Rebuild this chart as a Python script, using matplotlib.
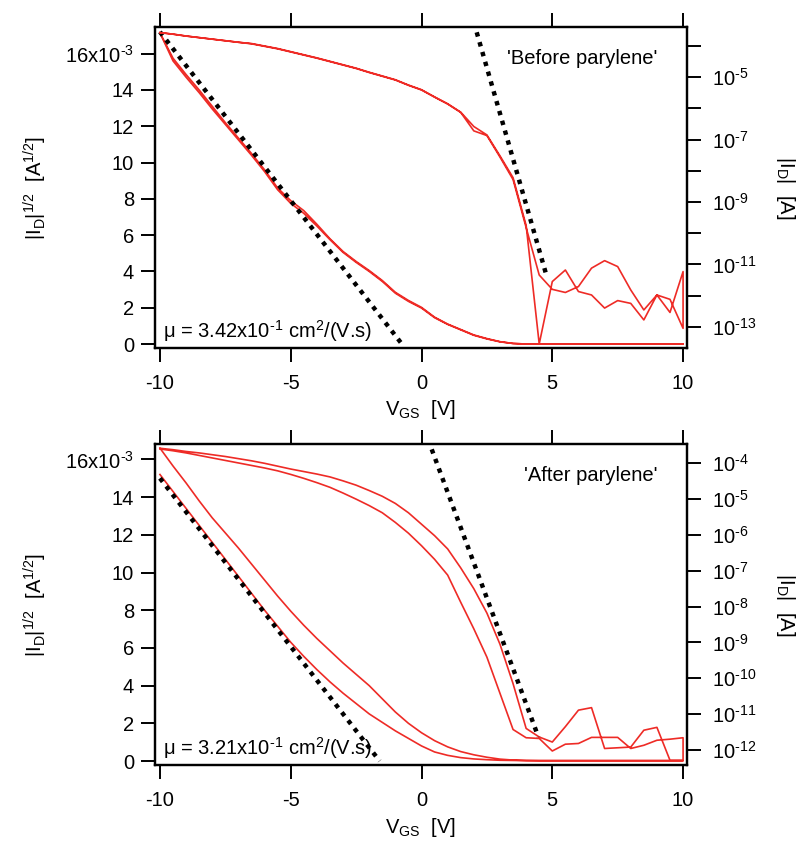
import numpy as np
import matplotlib
matplotlib.use("Agg")
import matplotlib.pyplot as plt
from matplotlib.ticker import FixedLocator, FixedFormatter, NullLocator

plt.rcParams['font.family'] = ['Liberation Sans', 'DejaVu Sans']
plt.rcParams['mathtext.fontset'] = 'custom'
plt.rcParams['mathtext.rm'] = 'Liberation Sans'
plt.rcParams['mathtext.it'] = 'Liberation Sans:italic'
plt.rcParams['mathtext.bf'] = 'Liberation Sans:bold'
plt.rcParams['axes.unicode_minus'] = False

# ---------------- data ----------------
vgs = [-10, -9.5, -9, -8.5, -8, -7.5, -7, -6.5, -6, -5.5, -5, -4.5, -4, -3.5, -3, -2.5,
       -2, -1.5, -1, -0.5, 0, 0.5, 1, 1.5, 2, 2.5, 3, 3.5, 4, 4.5, 5, 5.5, 6, 6.5,
       7, 7.5, 8, 8.5, 9, 9.5, 10]

# Before parylene: log10(|ID|) forward / reverse
before_log_fwd = [-3.57, -3.62, -3.68, -3.73, -3.78, -3.83, -3.88, -3.92, -4.00, -4.08, -4.18,
                  -4.28, -4.38, -4.49, -4.60, -4.71, -4.84, -4.96, -5.08, -5.25, -5.40, -5.63,
                  -5.85, -6.12, -6.58, -6.85, -7.52, -8.22, -9.75, -13.55, -11.55, -11.18,
                  -11.87, -11.98, -12.40, -12.16, -12.25, -12.78, -11.98, -12.54, -11.23]
before_log_rev = [-3.57, -3.62, -3.68, -3.73, -3.78, -3.83, -3.88, -3.93, -4.01, -4.09, -4.19,
                  -4.29, -4.39, -4.50, -4.61, -4.72, -4.85, -4.97, -5.09, -5.26, -5.41, -5.64,
                  -5.86, -6.13, -6.72, -6.87, -7.56, -8.28, -9.82, -11.34, -11.80, -11.90,
                  -11.71, -11.12, -10.88, -11.07, -11.82, -12.46, -11.98, -12.12, -13.05]
# Before parylene: sqrt(|ID|) in 1e-3 A^1/2
before_sqrt_fwd = [17.15, 15.75, 14.85, 14.0, 13.1, 12.2, 11.35, 10.5, 9.6, 8.6, 7.9, 7.35,
                   6.6, 5.8, 5.1, 4.55, 4.05, 3.5, 2.85, 2.4, 2.02, 1.48, 1.1, 0.8, 0.5, 0.3,
                   0.13, 0.03, 0.0, 0.0, 0.0, 0.0, 0.0, 0.0, 0.0, 0.0, 0.0, 0.0, 0.0, 0.0, 0.0]
before_sqrt_rev = [17.15, 15.6, 14.7, 13.85, 12.95, 12.1, 11.25, 10.4, 9.5, 8.5, 7.75, 7.2,
                   6.5, 5.75, 5.05, 4.5, 4.0, 3.45, 2.8, 2.35, 1.98, 1.45, 1.08, 0.78, 0.48, 0.28,
                   0.12, 0.03, 0.0, 0.0, 0.0, 0.0, 0.0, 0.0, 0.0, 0.0, 0.0, 0.0, 0.0, 0.0, 0.0]
before_fit_sqrt_x = [-10, -0.75]
before_fit_sqrt_y = [17.2, 0.0]
before_fit_log_x = [2.11, 4.79]
before_fit_log_y = [-3.56, -11.39]

# After parylene: log10(|ID|) forward / reverse
after_log_fwd = [-3.60, -3.65, -3.71, -3.78, -3.85, -3.92, -3.99, -4.06, -4.13, -4.21, -4.31,
                 -4.42, -4.54, -4.67, -4.83, -5.00, -5.18, -5.38, -5.65, -5.95, -6.30, -6.68,
                 -7.12, -7.88, -8.62, -9.41, -10.42, -11.43, -11.66, -11.68, -12.03, -11.84,
                 -11.82, -11.65, -11.65, -11.65, -11.96, -11.87, -11.73, -11.70, -11.66]
after_log_rev = [-3.58, -3.62, -3.67, -3.71, -3.76, -3.81, -3.87, -3.93, -4.00, -4.08, -4.16,
                 -4.23, -4.30, -4.38, -4.49, -4.61, -4.76, -4.92, -5.12, -5.38, -5.70, -6.02,
                 -6.39, -6.92, -7.50, -8.18, -9.05, -10.15, -11.40, -11.64, -11.78, -11.35,
                 -10.89, -10.82, -11.96, -11.94, -11.92, -11.45, -11.37, -12.29, -12.29]
after_sqrt_fwd = [16.6, 15.65, 14.75, 13.8, 12.9, 12.1, 11.3, 10.45, 9.6, 8.75, 7.95, 7.2, 6.5,
                  5.85, 5.2, 4.6, 4.0, 3.3, 2.6, 2.0, 1.5, 1.08, 0.75, 0.5, 0.33, 0.2, 0.1,
                  0.05, 0.03, 0.02, 0.02, 0.02, 0.02, 0.02, 0.02, 0.02, 0.02, 0.02, 0.02, 0.02, 0.02]
after_sqrt_rev = [15.2, 14.3, 13.4, 12.5, 11.6, 10.7, 9.8, 8.9, 8.0, 7.15, 6.3, 5.55, 4.85,
                  4.2, 3.6, 3.05, 2.5, 2.05, 1.6, 1.2, 0.8, 0.48, 0.3, 0.18, 0.11, 0.07, 0.04,
                  0.03, 0.02, 0.02, 0.02, 0.02, 0.02, 0.02, 0.02, 0.02, 0.02, 0.02, 0.02, 0.02, 0.02]
after_fit_sqrt_x = [-10, -1.6]
after_fit_sqrt_y = [15.0, 0.0]
after_fit_log_x = [0.39, 4.47]
after_fit_log_y = [-3.61, -11.64]

sqrt_ticks = [0, 2, 4, 6, 8, 10, 12, 14, 16]
sqrt_ticklabels = ['0', '2', '4', '6', '8', '10', '12', '14', '16x10$^{\\text{-3}}$']
x_ticks = [-10, -5, 0, 5, 10]

RED = '#ee2b26'
FS = 14.5

fig = plt.figure(figsize=(7.98, 8.41), dpi=100)


def make_panel(rect, sqrt_f, sqrt_r, log_f, log_r, fitsx, fitsy, fitlx, fitly,
               ylim_l, ylim_r_exp, decades, labeled, title, mu_text):
    ax = fig.add_axes(rect)
    v = np.array(vgs)
    xs = np.concatenate([v, v[::-1]])
    ys = np.concatenate([np.array(sqrt_f), np.array(sqrt_r)[::-1]])
    ax.plot(xs, ys, color=RED, lw=1.2, zorder=3)
    ax.plot(fitsx, fitsy, color='black', lw=3.2, linestyle=(0, (1, 1.3)),
            dash_capstyle='butt', zorder=4)
    ax.set_xlim(-10.19, 10.15)
    ax.set_ylim(*ylim_l)
    ax.yaxis.set_major_locator(FixedLocator(sqrt_ticks))
    ax.yaxis.set_major_formatter(FixedFormatter(sqrt_ticklabels))
    ax.xaxis.set_major_locator(FixedLocator(x_ticks))
    ax.tick_params(axis='both', direction='out', length=10, width=1.4, labelsize=FS,
                   top=True, labeltop=False)
    ax.tick_params(axis='x', pad=9)
    ax.tick_params(axis='y', pad=5)
    for s in ax.spines.values():
        s.set_linewidth(1.6)

    ax2 = ax.twinx()
    ax2.set_yscale('log')
    ls = np.concatenate([np.array(log_f), np.array(log_r)[::-1]])
    ax2.plot(xs, 10.0 ** ls, color=RED, lw=1.2, zorder=3)
    ax2.plot(fitlx, 10.0 ** np.array(fitly), color='black', lw=3.2,
             linestyle=(0, (1, 1.3)), dash_capstyle='butt', zorder=4)
    ax2.set_ylim(10.0 ** ylim_r_exp[0], 10.0 ** ylim_r_exp[1])
    ax2.yaxis.set_major_locator(FixedLocator([10.0 ** d for d in decades]))
    ax2.yaxis.set_major_formatter(FixedFormatter(
        ['10$^{\\text{%d}}$' % d if d in labeled else '' for d in decades]))
    ax2.yaxis.set_minor_locator(NullLocator())
    ax2.tick_params(axis='y', direction='out', length=10, width=1.4, labelsize=FS, pad=8)
    for s in ax2.spines.values():
        s.set_linewidth(1.6)

    ax.text(0.944, 0.903, title, transform=ax.transAxes, ha='right', va='center',
            fontsize=FS)
    ax.text(0.016, 0.053, mu_text, transform=ax.transAxes, ha='left', va='center',
            fontsize=FS)
    return ax, ax2


ylab_l = '|I$_{\\mathregular{D}}$|$^{\\mathregular{1/2}}$  [A$^{\\mathregular{1/2}}$]'
ylab_r = '|I$_{\\mathregular{D}}$|  [A]'
xlab = 'V$_{\\mathregular{GS}}$  [V]'

make_panel([0.1942, 0.5862, 0.6667, 0.3817], before_sqrt_fwd, before_sqrt_rev,
           before_log_fwd, before_log_rev, before_fit_sqrt_x, before_fit_sqrt_y,
           before_fit_log_x, before_fit_log_y, (-0.22, 17.47), (-13.68, -3.39),
           list(range(-13, -3)), [-5, -7, -9, -11, -13], "'Before parylene'",
           '\u03bc = 3.42x10$^{\\text{-1}}$ cm$^{\\mathregular{2}}$/(V.s)')

make_panel([0.1942, 0.0904, 0.6667, 0.3817], after_sqrt_fwd, after_sqrt_rev,
           after_log_fwd, after_log_rev, after_fit_sqrt_x, after_fit_sqrt_y,
           after_fit_log_x, after_fit_log_y, (-0.21, 16.82), (-12.42, -3.46),
           list(range(-12, -3)), list(range(-12, -3)), "'After parylene'",
           '\u03bc = 3.21x10$^{\\text{-1}}$ cm$^{\\mathregular{2}}$/(V.s)')

for yc, yx in [(0.7765, 0.5125), (0.2812, 0.0155)]:
    fig.text(0.044, yc, ylab_l, rotation=90, ha='center', va='center', fontsize=FS)
    fig.text(0.984, yc, ylab_r, rotation=-90, ha='center', va='center', fontsize=FS)
    fig.text(0.527, yx, xlab, ha='center', va='center', fontsize=FS)

fig.savefig('out.png', dpi=100)
